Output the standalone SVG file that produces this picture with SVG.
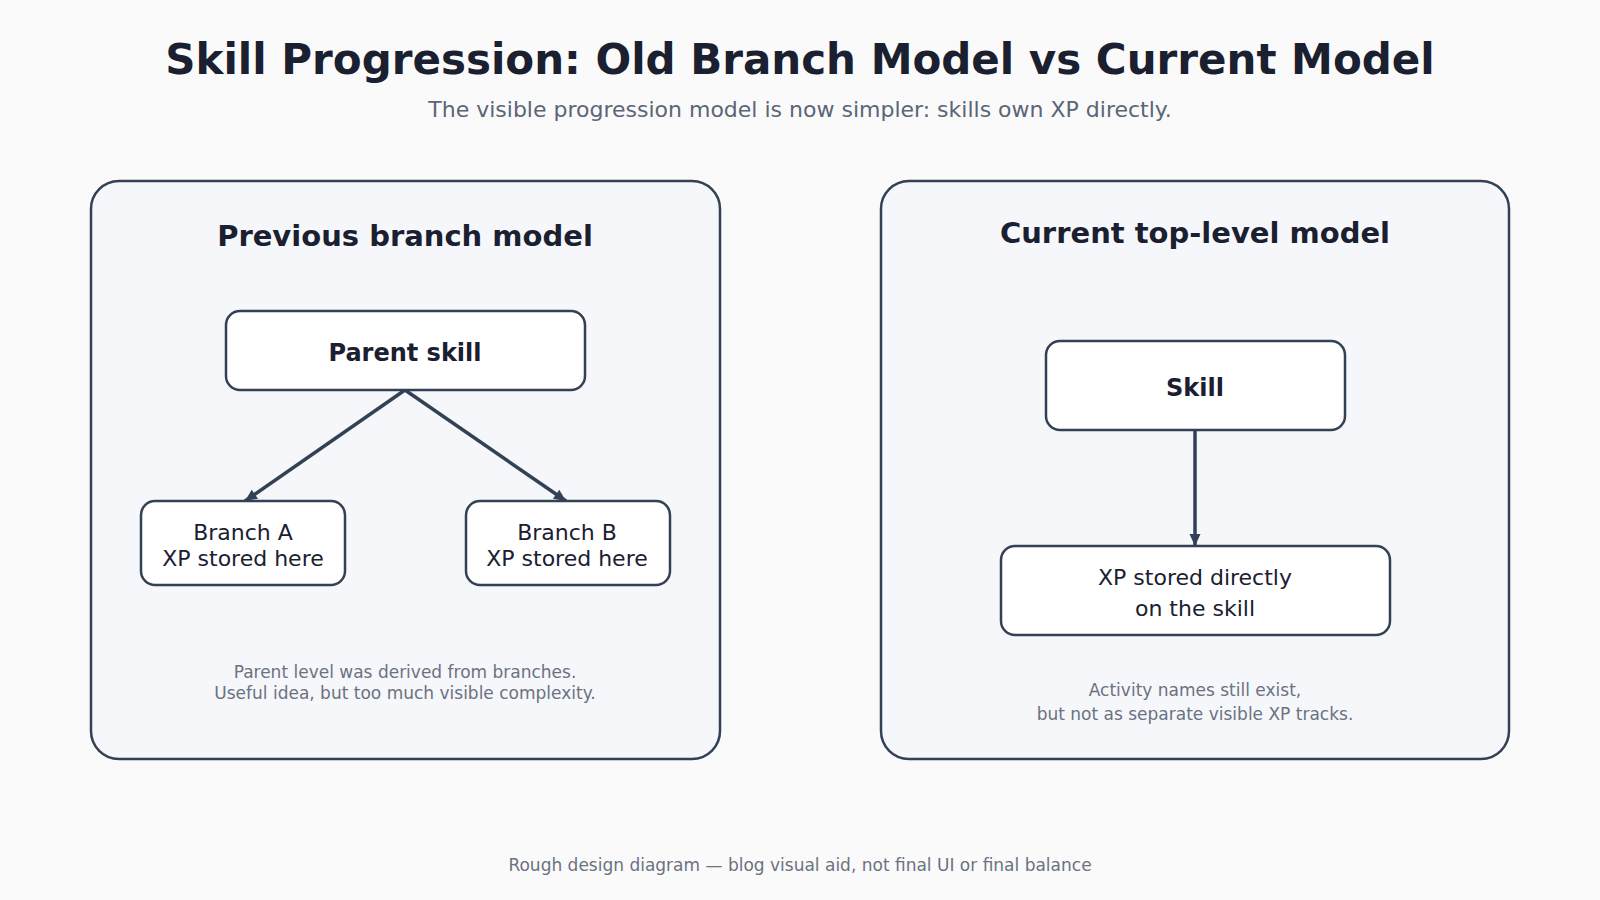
<svg xmlns="http://www.w3.org/2000/svg" width="1600" height="900" viewBox="0 0 1600 900">
<defs>
<style>
.bg{fill:#fafafa}
.panel{fill:#f5f7fb;stroke:#334155;stroke-width:2.5}
.node{fill:#ffffff;stroke:#334155;stroke-width:2.5}
.t{font-family:"DejaVu Sans",sans-serif;text-anchor:middle}
.title{font-size:42px;font-weight:bold;fill:#1a2030}
.sub{font-size:22px;fill:#5b6577}
.ptitle{font-size:29px;font-weight:bold;fill:#1a2030}
.bold{font-size:24px;font-weight:bold;fill:#1a2030}
.lbl{font-size:22px;fill:#1a2030}
.note{font-size:17px;fill:#6b7280}
.foot{font-size:17px;fill:#6b7280}
.edge{stroke:#334155;stroke-width:3.5;fill:none}
</style>
<marker id="arr" markerUnits="userSpaceOnUse" markerWidth="14" markerHeight="14" viewBox="0 0 14 14" refX="13" refY="7" orient="auto">
<path d="M1,1.5 L13,7 L1,12.5 Z" fill="#334155"/>
</marker>
</defs>
<rect class="bg" x="0" y="0" width="1600" height="900"/>
<text class="t title" x="800" y="74">Skill Progression: Old Branch Model vs Current Model</text>
<text class="t sub" x="800" y="117">The visible progression model is now simpler: skills own XP directly.</text>

<g id="panel-left">
<rect class="panel" x="91" y="181" width="629" height="578" rx="28"/>
<text class="t ptitle" x="405" y="246">Previous branch model</text>
<text class="t note" x="405" y="678">Parent level was derived from branches.</text>
<text class="t note" x="405" y="699">Useful idea, but too much visible complexity.</text>
</g>
<g id="panel-right">
<rect class="panel" x="881" y="181" width="628" height="578" rx="28"/>
<text class="t ptitle" x="1195" y="243">Current top-level model</text>
<text class="t note" x="1195" y="696">Activity names still exist,</text>
<text class="t note" x="1195" y="720">but not as separate visible XP tracks.</text>
</g>

<g id="connectors">
<line class="edge" x1="405" y1="390" x2="245" y2="501" marker-end="url(#arr)"/>
<line class="edge" x1="405" y1="390" x2="566" y2="501" marker-end="url(#arr)"/>
<line class="edge" x1="1195" y1="430" x2="1195" y2="546" marker-end="url(#arr)"/>
</g>

<g id="node-parent">
<rect class="node" x="226" y="311" width="359" height="79" rx="14"/>
<text class="t bold" x="405" y="361">Parent skill</text>
</g>
<g id="node-branch-a">
<rect class="node" x="141" y="501" width="204" height="84" rx="14"/>
<text class="t lbl" x="243" y="540">Branch A</text>
<text class="t lbl" x="243" y="566">XP stored here</text>
</g>
<g id="node-branch-b">
<rect class="node" x="466" y="501" width="204" height="84" rx="14"/>
<text class="t lbl" x="567" y="540">Branch B</text>
<text class="t lbl" x="567" y="566">XP stored here</text>
</g>
<g id="node-skill">
<rect class="node" x="1046" y="341" width="299" height="89" rx="14"/>
<text class="t bold" x="1195" y="396">Skill</text>
</g>
<g id="node-xp">
<rect class="node" x="1001" y="546" width="389" height="89" rx="14"/>
<text class="t lbl" x="1195" y="585">XP stored directly</text>
<text class="t lbl" x="1195" y="616">on the skill</text>
</g>

<text class="t foot" x="800" y="871">Rough design diagram — blog visual aid, not final UI or final balance</text>
</svg>
